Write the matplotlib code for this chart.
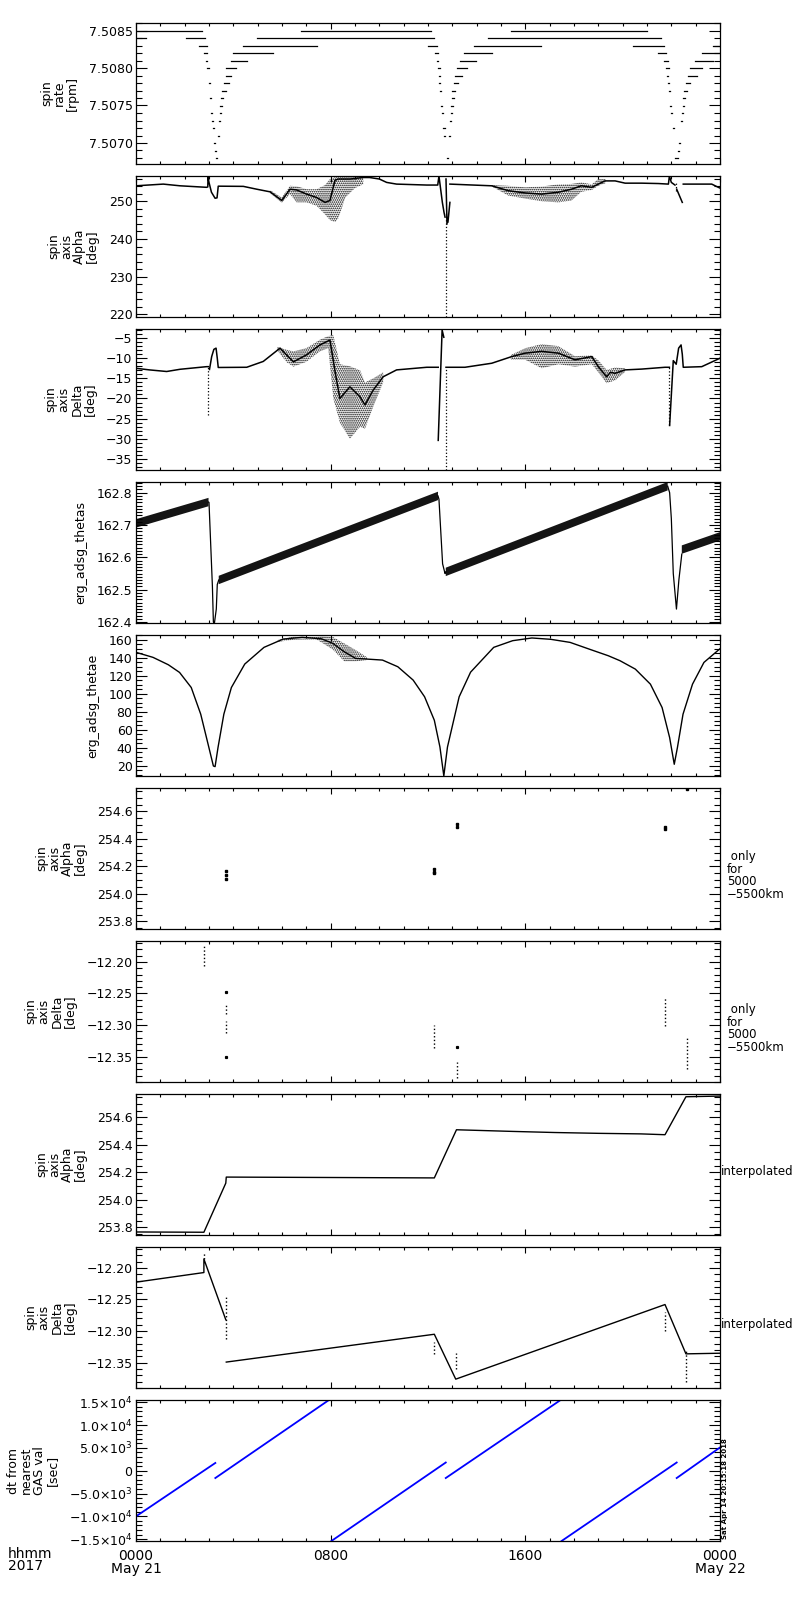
import numpy as np
import matplotlib
matplotlib.use('Agg')
import matplotlib.pyplot as plt
from matplotlib.ticker import MultipleLocator, FixedLocator, FixedFormatter, FuncFormatter

plt.rcParams['font.family'] = 'DejaVu Sans'
plt.rcParams['axes.linewidth'] = 0.9
plt.rcParams['hatch.linewidth'] = 0.8

nan = np.nan

# time axis: hours after 0000 UT, May 21 2017

# --- spin rate [rpm]: quantised levels, runs of (value, t_start, t_end)
rate_runs = [
    (7.5085, 0.00, 2.70), (7.5085, 6.78, 12.11), (7.5085, 15.41, 20.99),
    (7.5084, 0.00, 0.40), (7.5084, 2.04, 2.82), (7.5084, 4.96, 12.25), (7.5084, 14.48, 21.56),
    (7.5083, 2.60, 2.90), (7.5083, 4.41, 7.42), (7.5083, 12.00, 12.36), (7.5083, 13.89, 16.64),
    (7.5083, 20.41, 21.70), (7.5083, 23.70, 24.00),
    (7.5082, 2.80, 2.90), (7.5082, 3.97, 5.62), (7.5082, 12.29, 12.41), (7.5082, 13.48, 14.64),
    (7.5082, 21.47, 21.78), (7.5082, 23.25, 24.00),
    (7.5081, 2.88, 2.93), (7.5081, 3.90, 4.55), (7.5081, 12.36, 12.42), (7.5081, 13.32, 13.97),
    (7.5081, 21.70, 21.85), (7.5081, 22.97, 23.70),
    (7.5080, 2.93, 3.00), (7.5080, 3.70, 4.10), (7.5080, 12.40, 12.49), (7.5080, 13.18, 13.59),
    (7.5080, 21.78, 21.90), (7.5080, 22.77, 23.25),
    (7.5079, 2.98, 3.02), (7.5079, 3.70, 3.90), (7.5079, 12.47, 12.50), (7.5079, 13.11, 13.38),
    (7.5079, 21.84, 21.87), (7.5079, 22.70, 23.04),
    (7.5078, 3.00, 3.03), (7.5078, 3.62, 3.81), (7.5078, 12.47, 12.50), (7.5078, 13.07, 13.24),
    (7.5078, 21.87, 21.90), (7.5078, 22.60, 22.77),
    (7.5077, 3.03, 3.05), (7.5077, 3.55, 3.70), (7.5077, 12.50, 12.53), (7.5077, 13.00, 13.10),
    (7.5077, 21.91, 21.93), (7.5077, 22.52, 22.66),
    (7.5076, 3.06, 3.08), (7.5076, 3.50, 3.59), (7.5076, 12.52, 12.55), (7.5076, 12.98, 13.06),
    (7.5076, 21.94, 21.96), (7.5076, 22.49, 22.56),
    (7.5075, 3.08, 3.10), (7.5075, 3.46, 3.52), (7.5075, 12.55, 12.58), (7.5075, 12.96, 13.03),
    (7.5075, 21.96, 21.98), (7.5075, 22.47, 22.50),
    (7.5074, 3.10, 3.12), (7.5074, 3.44, 3.48), (7.5074, 12.57, 12.60), (7.5074, 12.94, 13.00),
    (7.5074, 22.00, 22.02), (7.5074, 22.44, 22.47),
    (7.5073, 3.13, 3.16), (7.5073, 3.42, 3.45), (7.5073, 12.60, 12.62), (7.5073, 12.92, 12.96),
    (7.5073, 22.05, 22.07), (7.5073, 22.41, 22.43),
    (7.5072, 3.17, 3.19), (7.5072, 3.40, 3.43), (7.5072, 12.63, 12.70), (7.5072, 12.89, 12.92),
    (7.5072, 22.07, 22.09), (7.5072, 22.38, 22.41),
    (7.5071, 3.19, 3.21), (7.5071, 3.38, 3.40), (7.5071, 12.66, 12.68), (7.5071, 12.87, 12.90),
    (7.5071, 22.10, 22.12), (7.5071, 22.35, 22.37),
    (7.5070, 3.22, 3.24), (7.5070, 3.37, 3.39), (7.5070, 12.69, 12.71), (7.5070, 12.85, 12.87),
    (7.5070, 22.12, 22.13), (7.5070, 22.32, 22.34),
    (7.5069, 3.25, 3.27), (7.5069, 3.35, 3.37), (7.5069, 12.73, 12.75), (7.5069, 12.82, 12.84),
    (7.5069, 22.14, 22.16), (7.5069, 22.28, 22.30),
    (7.5068, 3.28, 3.33), (7.5068, 12.77, 12.81), (7.5068, 22.17, 22.27),
]

# --- spin axis Alpha [deg]
alpha_t = [0.0, 0.5, 1.12, 1.81, 2.90, 2.95, 2.96, 3.00, 3.10, 3.25, 3.33, 3.38, 4.41, 4.96,
           5.51, 5.99, 6.33, 6.60, 7.01, 7.42, 7.77, 7.97, 8.18, 8.32, 8.80, 9.34, 9.60, 10.0,
           10.3, 10.71, 11.95, 12.40, 12.45, 12.52, 12.59, 12.66, 12.70, nan,
           12.74, 12.78, nan, 12.82, 12.90, nan,
           12.90, 14.62, 15.3, 16.0, 16.67, 17.36, 17.9, 18.3, 18.73, 19.0, 19.27, 19.69, 20.1,
           20.78, 21.47, 21.88, 21.92, 22.0, 22.15, nan, 22.22, 22.45, nan,
           22.49, 23.66, 23.93, 24.0]
alpha_v = [254.1, 254.3, 254.55, 254.1, 253.7, 253.8, 256.4, 255.0, 252.4, 250.8, 250.9, 254.0,
           253.95, 253.2, 252.5, 250.2, 253.2, 253.0, 251.9, 251.0, 249.7, 250.2, 255.6, 255.9,
           255.9, 256.3, 256.3, 255.9, 255.0, 254.55, 254.3, 254.3, 256.7, 253.2, 249.7, 247.0,
           245.8, nan,
           255.9, 244.0, nan, 244.5, 249.7, nan,
           254.55, 254.1, 252.8, 252.2, 251.9, 252.4, 253.2, 254.1, 253.7, 254.55, 255.4, 255.4,
           254.8, 254.8, 254.7, 254.55, 256.7, 255.0, 254.3, nan, 253.2, 249.7, nan,
           254.55, 254.55, 253.7, 253.5]
alpha_drop_t = [12.73, 22.18]
alpha_drop_v0 = [247.0, 255.0]
alpha_drop_v1 = [219.3, 252.8]
alpha_cloud1_t = [5.5, 5.99, 6.33, 6.6, 7.01, 7.42, 7.77, 7.97, 8.18, 8.32, 8.6, 9.0, 9.34]
alpha_cloud1_hi = [253.0, 251.0, 254.1, 254.0, 253.2, 253.2, 254.3, 255.9, 256.4, 256.4, 256.4, 256.4, 256.5]
alpha_cloud1_lo = [252.2, 249.6, 251.9, 249.7, 249.7, 248.8, 246.5, 245.0, 244.5, 245.5, 251.0, 253.5, 254.5]
alpha_cloud2_t = [14.6, 15.3, 16.0, 16.67, 17.36, 17.9, 18.3, 18.73, 19.0, 19.3]
alpha_cloud2_hi = [254.3, 254.1, 253.7, 253.9, 254.5, 254.6, 255.0, 254.5, 255.9, 255.9]
alpha_cloud2_lo = [254.0, 251.5, 250.7, 250.0, 249.7, 250.2, 252.5, 253.0, 254.1, 254.8]

# --- spin axis Delta [deg]
delta_t = [0.0, 0.55, 1.26, 1.81, 2.90, 2.97, nan, 3.02, 3.11, 3.20, 3.29, 3.34, 3.38, 4.55,
           5.23, 5.92, 6.19, 6.47, 7.0, 7.56, 7.97, 8.2, 8.38, 8.79, 9.21, 9.41, 9.75, 10.16,
           10.71, 11.95, 12.42, nan, 12.42, 12.58, 12.65, nan,
           12.74, 13.52, 14.62, 15.44, 15.99, 16.67, 17.36, 18.04, 18.73, 19.0, 19.34, 19.5,
           19.69, 20.1, 20.78, 21.74, 21.92, nan, 21.93, 22.08, 22.2, 22.3, 22.4, 22.45,
           22.49, 23.25, 24.0]
delta_v = [-12.5, -12.9, -13.3, -12.75, -12.1, -12.1, nan, -12.8, -9.6, -7.8, -7.5, -10.0,
           -12.3, -12.25, -10.8, -7.5, -9.2, -10.9, -9.2, -6.7, -5.5, -14.0, -20.0, -17.1,
           -19.6, -21.6, -17.9, -14.6, -12.9, -12.25, -12.25, nan, -30.4, -3.0, -4.8, nan,
           -12.25, -12.25, -11.25, -9.6, -8.75, -8.3, -8.75, -10.4, -9.6, -12.1, -14.6, -13.5,
           -13.75, -12.9, -12.7, -12.25, -12.25, nan, -26.7, -10.6, -11.5, -7.5, -6.7, -9.0,
           -12.25, -12.1, -10.0]
delta_drop_t = [2.97, 12.73, 21.92]
delta_drop_v0 = [-12.1, -12.25, -12.25]
delta_drop_v1 = [-24.2, -37.8, -26.7]
delta_cloud1_t = [5.8, 6.19, 6.47, 7.0, 7.56, 7.9, 8.11, 8.38, 8.79, 9.21, 9.41, 9.75, 10.16]
delta_cloud1_hi = [-7.2, -7.9, -8.3, -7.5, -5.4, -4.5, -4.3, -11.5, -12.0, -13.0, -16.0, -15.0, -13.5]
delta_cloud1_lo = [-8.0, -11.0, -12.1, -10.9, -8.3, -7.5, -20.0, -26.0, -30.0, -27.0, -27.5, -22.0, -16.0]
delta_cloud2_t = [15.4, 16.0, 16.67, 17.36, 18.04, 18.73, 19.0, 19.34, 19.69, 20.1]
delta_cloud2_hi = [-9.2, -7.5, -6.5, -7.0, -9.5, -9.3, -10.5, -12.9, -12.3, -12.5]
delta_cloud2_lo = [-10.4, -10.4, -12.5, -11.5, -12.1, -11.5, -13.5, -16.2, -15.5, -13.4]

# --- erg_adsg_thetas: band centre along the sawtooth
thetas_band_t = [[0.0, 2.98], [3.40, 12.41], [12.73, 21.85], [22.43, 24.0]]
thetas_band_c = [[162.705, 162.771], [162.530, 162.790], [162.555, 162.820], [162.624, 162.665]]
thetas_drop_t = [2.98, 3.00, 3.14, 3.18, 3.22, 3.30, 3.34, 3.40, nan,
                 12.41, 12.45, 12.60, 12.70, 12.73, nan,
                 21.85, 21.93, 22.00, 22.08, 22.21, 22.31, 22.43]
thetas_drop_v = [162.771, 162.770, 162.510, 162.400, 162.395, 162.44, 162.516, 162.530, nan,
                 162.790, 162.780, 162.580, 162.550, 162.555, nan,
                 162.820, 162.800, 162.720, 162.550, 162.440, 162.530, 162.610]

# --- erg_adsg_thetae
thetae_t = [0.0, 0.70, 1.33, 1.79, 2.27, 2.66, 2.98, 3.18, 3.25, 3.37, 3.61, 3.92, 4.47, 5.26,
            6.05, 6.83, 7.62, 8.09, 8.56, 9.03, 9.5, 10.13, 10.76, 11.39, 11.86, 12.26, 12.49,
            12.65, 12.8, 12.96, 13.28, 13.75, 14.7, 15.48, 16.27, 17.05, 17.84, 18.62, 19.41,
            19.89, 20.52, 21.14, 21.62, 21.93, 22.12, 22.25, 22.48, 22.87, 23.34, 24.0]
thetae_v = [146.0, 140.4, 132.2, 123.7, 107.0, 77.4, 42.2, 20.0, 19.3, 40.4, 77.4, 107.0,
            133.0, 151.5, 160.7, 162.6, 161.0, 155.9, 146.6, 139.2, 138.5, 137.4, 130.0, 115.2,
            96.7, 70.7, 41.1, 9.0, 41.0, 59.6, 96.7, 124.0, 151.5, 158.9, 161.9, 160.4, 157.0,
            149.6, 142.2, 136.7, 127.4, 110.7, 84.8, 51.5, 21.9, 40.4, 77.4, 110.7, 134.8, 150.0]
thetae_cloud_t = [5.8, 6.5, 7.4, 7.62, 8.09, 8.56, 9.03, 9.5]
thetae_cloud_hi = [159.5, 163.5, 163.0, 164.0, 163.0, 155.9, 148.5, 140.4]
thetae_cloud_lo = [157.5, 160.0, 160.4, 157.0, 149.0, 136.0, 136.0, 137.5]

# --- spin axis Alpha/Delta only for 5000-5500km
alpha_only_t = [3.71, 3.71, 3.71, 12.26, 12.26, 12.26, 13.18, 13.18, 21.74, 21.74, 22.66]
alpha_only_v = [254.11, 254.14, 254.17, 254.15, 254.16, 254.18, 254.49, 254.51, 254.47, 254.49, 254.76]
delta_only_t = [2.81, 3.71, 3.71, 12.26, 13.18, 21.74, 22.66]
delta_only_v0 = [-12.175, -12.266, -12.293, -12.300, -12.358, -12.256, -12.320]
delta_only_v1 = [-12.207, -12.282, -12.313, -12.337, -12.384, -12.301, -12.370]
delta_only_pt_t = [3.71, 3.71, 13.18]
delta_only_pt_v = [-12.247, -12.350, -12.334]

# --- interpolated Alpha/Delta
interp_alpha_t = [0.0, 2.79, 3.69, 3.71, 12.26, 13.17, 15.48, 17.21, 19.02, 20.75, 21.74, 22.60, 24.0]
interp_alpha_v = [253.767, 253.765, 254.122, 254.166, 254.160, 254.510, 254.498, 254.490,
                  254.484, 254.480, 254.474, 254.750, 254.755]
interp_delta_t = [0.0, 2.79, 2.79, 3.69, nan, 3.71, 12.26, 13.14, 21.74, 22.60, 24.0]
interp_delta_v = [-12.2226, -12.2074, -12.186, -12.282, nan, -12.349, -12.305, -12.376,
                  -12.258, -12.336, -12.335]
interp_dots_t = [2.79, 3.71, 12.26, 13.17, 21.74, 22.60]
interp_dots_v0 = [-12.175, -12.246, -12.318, -12.334, -12.270, -12.330]
interp_dots_v1 = [-12.186, -12.312, -12.337, -12.360, -12.300, -12.380]

# --- dt from nearest GAS value [sec]
dt_t0 = [0.00, 3.26, 8.03, 12.73, 17.49, 22.22]
dt_v0 = [-10000, -1600, -15400, -1600, -15400, -1600]
dt_t1 = [3.26, 7.93, 12.73, 17.45, 22.22, 24.00]
dt_v1 = [1700, 15500, 1800, 15500, 1800, 5100]
dt_ticks = [-15000, -10000, -5000, 0, 5000, 10000, 15000]
dt_labels = ['\u22121.5\u00d710$^{4}$', '\u22121.0\u00d710$^{4}$', '\u22125.0\u00d710$^{3}$', '0',
             '5.0\u00d710$^{3}$', '1.0\u00d710$^{4}$', '1.5\u00d710$^{4}$']

x_ticks = [0, 8, 16, 24]
x_labels = ['0000\nMay 21', '0800', '1600', '0000\nMay 22']


fig = plt.figure(figsize=(8, 16), dpi=100)


def fmt(f):
    return FuncFormatter(lambda v, p: (f % v).replace('-', '\u2212'))


def panel(i, ylim, major, minor, f, label):
    top = 23 + 153 * i
    ax = fig.add_axes([136 / 800, 1 - (top + 141) / 1600, 584 / 800, 141 / 1600])
    ax.set_xlim(0, 24)
    ax.set_ylim(*ylim)
    ax.xaxis.set_major_locator(FixedLocator(x_ticks))
    ax.xaxis.set_minor_locator(MultipleLocator(1))
    ax.yaxis.set_major_locator(MultipleLocator(major))
    ax.yaxis.set_minor_locator(MultipleLocator(minor))
    if f is not None:
        ax.yaxis.set_major_formatter(fmt(f))
    ax.tick_params(which='both', direction='in', top=True, right=True, labelbottom=False,
                   width=0.8, labelsize=9, pad=2.5)
    ax.tick_params(axis='y', which='major', length=8)
    ax.tick_params(axis='y', which='minor', length=4.3)
    ax.tick_params(axis='x', which='major', length=4.5)
    ax.tick_params(axis='x', which='minor', length=2.2)
    ax.set_ylabel(label, fontsize=9, linespacing=1.0, labelpad=7)
    return ax


def cloud(ax, t, lo, hi):
    # scattered points drawn as a stippled region
    ax.fill_between(t, lo, hi, facecolor='none', edgecolor='black', hatch='........', linewidth=0)


# 1 spin rate
ax = panel(0, (7.50672, 7.50860), 0.0005, 0.0001, '%.4f', 'spin\nrate\n[rpm]')
ax.hlines([r[0] for r in rate_runs], [r[1] for r in rate_runs], [r[2] for r in rate_runs],
          colors='black', lw=0.9, capstyle='projecting')

# 2 spin axis alpha
ax = panel(1, (219.3, 256.7), 10, 2, '%d', 'spin\naxis\nAlpha\n[deg]')
cloud(ax, alpha_cloud1_t, alpha_cloud1_lo, alpha_cloud1_hi)
cloud(ax, alpha_cloud2_t, alpha_cloud2_lo, alpha_cloud2_hi)
ax.plot(alpha_t, alpha_v, color='black', lw=1.1)
ax.vlines(alpha_drop_t, alpha_drop_v1, alpha_drop_v0, colors='black', lw=0.9, linestyles=':')

# 3 spin axis delta
ax = panel(2, (-37.75, -2.75), 5, 1, '%d', 'spin\naxis\nDelta\n[deg]')
cloud(ax, delta_cloud1_t, delta_cloud1_lo, delta_cloud1_hi)
cloud(ax, delta_cloud2_t, delta_cloud2_lo, delta_cloud2_hi)
ax.plot(delta_t, delta_v, color='black', lw=1.1)
ax.vlines(delta_drop_t, delta_drop_v1, delta_drop_v0, colors='black', lw=0.9, linestyles=':')

# 4 thetas
ax = panel(3, (162.397, 162.833), 0.1, 0.01, '%.1f', 'erg_adsg_thetas')
for tt, cc in zip(thetas_band_t, thetas_band_c):
    ax.fill_between(tt, [c - 0.013 for c in cc], [c + 0.013 for c in cc],
                    facecolor='0.08', lw=0)
ax.plot(thetas_drop_t, thetas_drop_v, color='black', lw=0.9)

# 5 thetae
ax = panel(4, (8.9, 165.2), 20, 5, '%d', 'erg_adsg_thetae')
cloud(ax, thetae_cloud_t, thetae_cloud_lo, thetae_cloud_hi)
ax.plot(thetae_t, thetae_v, color='black', lw=1.0)

# 6 alpha, 5000-5500 km only
ax = panel(5, (253.745, 254.77), 0.2, 0.05, '%.1f', 'spin\naxis\nAlpha\n[deg]')
ax.plot(alpha_only_t, alpha_only_v, 's', color='black', ms=1.5)
ax.text(1.012, 0.56, ' only\nfor\n5000\n\u22125500km', transform=ax.transAxes,
        ha='left', va='top', fontsize=8.5, linespacing=0.95)

# 7 delta, 5000-5500 km only
ax = panel(6, (-12.39, -12.167), 0.05, 0.01, '%.2f', 'spin\naxis\nDelta\n[deg]')
ax.vlines(delta_only_t, delta_only_v1, delta_only_v0, colors='black', lw=1.0, linestyles=':')
ax.plot(delta_only_pt_t, delta_only_pt_v, 's', color='black', ms=1.3)
ax.text(1.012, 0.56, ' only\nfor\n5000\n\u22125500km', transform=ax.transAxes,
        ha='left', va='top', fontsize=8.5, linespacing=0.95)

# 8 alpha interpolated
ax = panel(7, (253.745, 254.77), 0.2, 0.05, '%.1f', 'spin\naxis\nAlpha\n[deg]')
ax.plot(interp_alpha_t, interp_alpha_v, color='black', lw=1.0)
ax.text(1.002, 0.45, 'interpolated', transform=ax.transAxes, ha='left', va='center', fontsize=8.5)

# 9 delta interpolated
ax = panel(8, (-12.39, -12.167), 0.05, 0.01, '%.2f', 'spin\naxis\nDelta\n[deg]')
ax.plot(interp_delta_t, interp_delta_v, color='black', lw=1.0)
ax.vlines(interp_dots_t, interp_dots_v1, interp_dots_v0, colors='black', lw=1.0, linestyles=':')
ax.text(1.002, 0.45, 'interpolated', transform=ax.transAxes, ha='left', va='center', fontsize=8.5)

# 10 dt from nearest GAS value
ax = panel(9, (-15400, 15500), 5000, 1000, None, 'dt from\nnearest\nGAS val\n[sec]')
ax.yaxis.set_major_locator(FixedLocator(dt_ticks))
ax.yaxis.set_major_formatter(FixedFormatter(dt_labels))
for a, b, c, d in zip(dt_t0, dt_t1, dt_v0, dt_v1):
    ax.plot([a, b], [c, d], color='#0000ff', lw=1.3)
ax.tick_params(axis='x', labelbottom=True, labelsize=10, pad=6)
ax.xaxis.set_major_formatter(FixedFormatter(x_labels))
for lab in ax.get_xticklabels():
    lab.set_linespacing(0.85)

fig.text(8 / 800, 1 - 1547 / 1600, 'hhmm\n2017', ha='left', va='top', fontsize=10, linespacing=0.85)
fig.text(722 / 800, 1 - 1539 / 1600, 'Sat Apr 14 20:15:18 2018', rotation=90, fontsize=5,
         fontweight='bold', ha='left', va='bottom')

fig.savefig('out.png', dpi=100)
